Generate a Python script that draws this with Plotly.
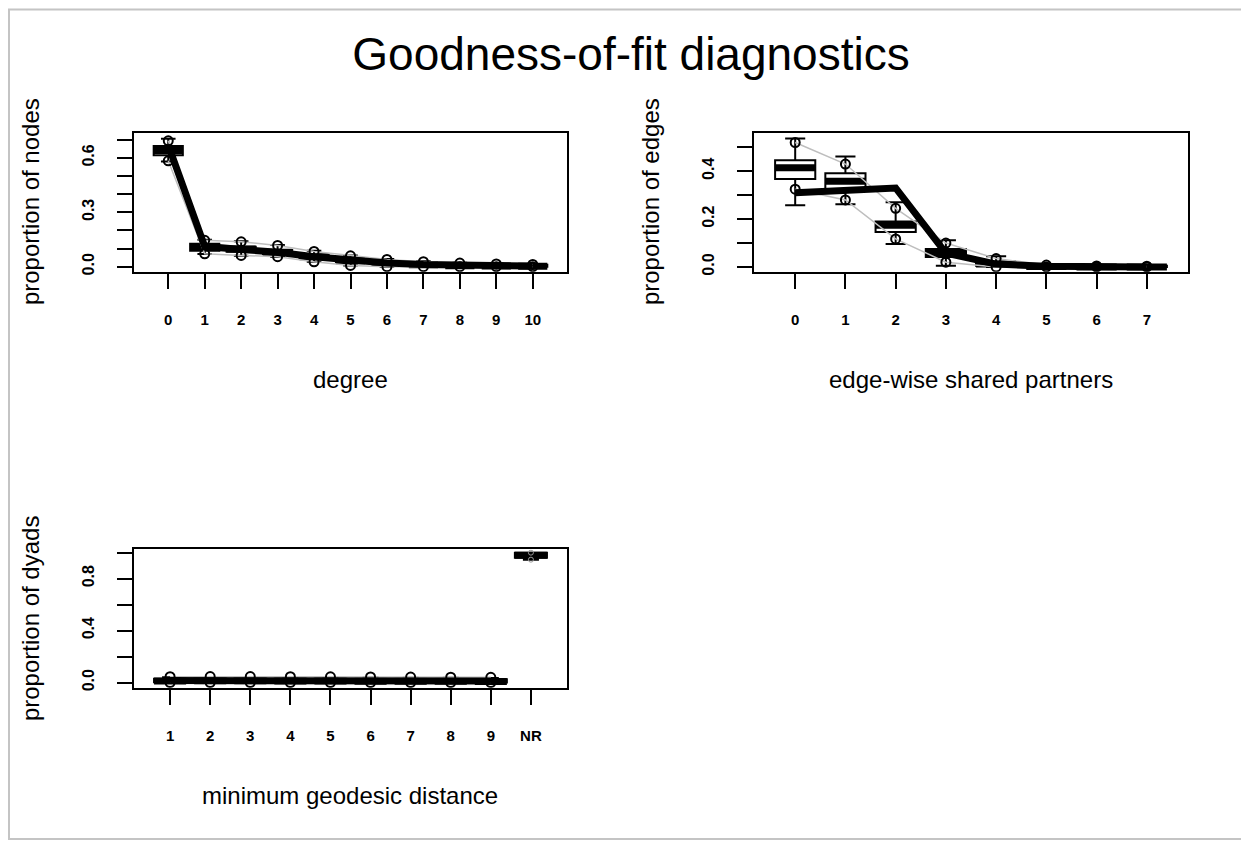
import plotly.graph_objects as go

# ---------------- data ----------------
# Panel 1: degree
deg_labels = ['0', '1', '2', '3', '4', '5', '6', '7', '8', '9', '10']
deg_q1 = [0.615, 0.088, 0.082, 0.068, 0.045, 0.025, 0.010, 0.005, 0.001, 0.000, 0.000]
deg_med = [0.640, 0.105, 0.097, 0.080, 0.055, 0.033, 0.017, 0.010, 0.005, 0.003, 0.002]
deg_q3 = [0.665, 0.126, 0.110, 0.092, 0.066, 0.042, 0.025, 0.018, 0.014, 0.012, 0.010]
deg_lo = [0.580, 0.070, 0.060, 0.053, 0.027, 0.007, 0.000, 0.000, 0.000, 0.000, 0.000]
deg_hi = [0.705, 0.148, 0.140, 0.120, 0.088, 0.062, 0.042, 0.030, 0.022, 0.017, 0.013]
deg_pmin = [0.584, 0.071, 0.062, 0.055, 0.027, 0.007, 0.000, 0.000, 0.000, 0.000, 0.000]
deg_pmax = [0.694, 0.145, 0.137, 0.117, 0.084, 0.060, 0.040, 0.027, 0.020, 0.015, 0.012]
deg_obs = [0.670, 0.112, 0.095, 0.080, 0.055, 0.035, 0.020, 0.012, 0.006, 0.004, 0.003]

# Panel 2: edge-wise shared partners
esp_labels = ['0', '1', '2', '3', '4', '5', '6', '7']
esp_q1 = [0.367, 0.320, 0.146, 0.042, 0.005, 0.000, 0.000, 0.000]
esp_med = [0.415, 0.358, 0.174, 0.058, 0.012, 0.002, 0.000, 0.000]
esp_q3 = [0.446, 0.392, 0.190, 0.075, 0.020, 0.008, 0.006, 0.005]
esp_lo = [0.258, 0.262, 0.096, 0.005, 0.000, 0.000, 0.000, 0.000]
esp_hi = [0.537, 0.462, 0.270, 0.112, 0.045, 0.012, 0.008, 0.007]
esp_pmin = [0.325, 0.280, 0.117, 0.020, 0.000, 0.000, 0.000, 0.000]
esp_pmax = [0.520, 0.430, 0.245, 0.100, 0.035, 0.008, 0.004, 0.003]
esp_obs = [0.310, 0.317, 0.330, 0.058, 0.012, 0.003, 0.001, 0.000]

# Panel 3: minimum geodesic distance
dist_labels = ['1', '2', '3', '4', '5', '6', '7', '8', '9', 'NR']
dist_q1 = [0.002, 0.004, 0.004, 0.003, 0.002, 0.002, 0.001, 0.001, 0.000, 0.960]
dist_med = [0.012, 0.013, 0.014, 0.012, 0.011, 0.010, 0.010, 0.009, 0.008, 0.980]
dist_q3 = [0.030, 0.031, 0.032, 0.030, 0.029, 0.028, 0.027, 0.026, 0.025, 1.000]
dist_lo = [0.000, 0.000, 0.000, 0.000, 0.000, 0.000, 0.000, 0.000, 0.000, 0.946]
dist_hi = [0.040, 0.041, 0.041, 0.040, 0.039, 0.038, 0.037, 0.036, 0.035, 1.000]
dist_pmin = [0.000, 0.000, 0.000, 0.000, 0.000, 0.000, 0.000, 0.000, 0.000, 0.946]
dist_pmax = [0.045, 0.046, 0.046, 0.045, 0.044, 0.043, 0.042, 0.041, 0.040, 1.000]
dist_obs = [0.016, 0.017, 0.018, 0.016, 0.015, 0.014, 0.013, 0.012, 0.011, 0.980]

# ---------------- figure ----------------
# the page body adds an 8px offset; the figure is sized to fill the rest
OX, OY = 8, 8
W, H = 1241, 838
FONT = "Liberation Sans, Arial, Helvetica, sans-serif"

fig = go.Figure()


def add_panel(xa, ya, labels, q1, med, q3, lo, hi, pmin, pmax, obs, skip_last_obs=False):
    pos = list(range(len(labels)))
    fig.add_trace(go.Box(
        x=pos, q1=q1, median=med, q3=q3, lowerfence=lo, upperfence=hi,
        width=0.8, whiskerwidth=0.5, boxpoints=False,
        line=dict(color="black", width=2), fillcolor="white",
        showlegend=False, hoverinfo="skip", xaxis=xa, yaxis=ya))
    # thick median lines
    mx, my = [], []
    for p, m in zip(pos, med):
        mx += [p - 0.4, p + 0.4, None]
        my += [m, m, None]
    fig.add_trace(go.Scatter(x=mx, y=my, mode="lines",
                             line=dict(color="black", width=7),
                             showlegend=False, hoverinfo="skip", xaxis=xa, yaxis=ya))
    n = len(pos) - 1 if skip_last_obs else len(pos)
    for arr in (pmin, pmax):
        fig.add_trace(go.Scatter(
            x=pos[:n], y=arr[:n], mode="lines+markers",
            line=dict(color="#bebebe", width=1.5),
            marker=dict(symbol="circle-open", color="black", size=9, line=dict(width=2)),
            showlegend=False, hoverinfo="skip", xaxis=xa, yaxis=ya))
        if skip_last_obs:
            fig.add_trace(go.Scatter(
                x=pos[n:], y=arr[n:], mode="markers",
                marker=dict(symbol="circle-open", color="#999999", size=5, line=dict(width=1)),
                showlegend=False, hoverinfo="skip", xaxis=xa, yaxis=ya))
    fig.add_trace(go.Scatter(x=pos[:n], y=obs[:n], mode="lines",
                             line=dict(color="black", width=7),
                             showlegend=False, hoverinfo="skip", xaxis=xa, yaxis=ya))


add_panel("x", "y", deg_labels, deg_q1, deg_med, deg_q3, deg_lo, deg_hi, deg_pmin, deg_pmax, deg_obs)
add_panel("x2", "y2", esp_labels, esp_q1, esp_med, esp_q3, esp_lo, esp_hi, esp_pmin, esp_pmax, esp_obs)
add_panel("x3", "y3", dist_labels, dist_q1, dist_med, dist_q3, dist_lo, dist_hi, dist_pmin, dist_pmax,
          dist_obs, skip_last_obs=True)


def fx(a):
    return (a - OX) / W


def fy(y):
    return 1 - (y - OY) / H


axis_common = dict(showline=True, mirror=True, linecolor="black", linewidth=2,
                   ticks="outside", ticklen=15, tickwidth=2, tickcolor="black",
                   showgrid=False, zeroline=False, fixedrange=True,
                   tickfont=dict(family=FONT, size=15, color="black"))


def xaxis(labels, domain, anchor):
    n = len(labels)
    ext = 0.04 * n
    return dict(axis_common, domain=domain, anchor=anchor,
                range=[-0.5 - ext, n - 0.5 + ext],
                tickmode="array", tickvals=list(range(n)),
                ticktext=["<b>%s</b>" % s for s in labels],
                ticklabelstandoff=18)


def yaxis(tickvals, ticktext, rng, domain, anchor):
    return dict(axis_common, domain=domain, anchor=anchor, range=rng,
                tickmode="array", tickvals=tickvals,
                ticktext=["<b>%s</b>" % s if s else "" for s in ticktext],
                tickangle=-90, ticklabelstandoff=17,
                tickfont=dict(family=FONT, size=16, color="black"))


d1x = [fx(134), fx(567)]
d2x = [fx(754), fx(1188)]
dtop = [fy(273), fy(134)]
dbot = [fy(691), fy(552)]

fig.update_layout(
    width=W, height=H, margin=dict(l=0, r=0, t=0, b=0),
    plot_bgcolor="white", paper_bgcolor="white",
    font=dict(family=FONT, color="black"),
    xaxis=xaxis(deg_labels, d1x, "y"),
    yaxis=yaxis([0, 0.1, 0.2, 0.3, 0.4, 0.5, 0.6, 0.7],
                ["0.0", "", "", "0.3", "", "", "0.6", ""], [-0.028, 0.735], dtop, "x"),
    xaxis2=xaxis(esp_labels, d2x, "y2"),
    yaxis2=yaxis([0, 0.1, 0.2, 0.3, 0.4, 0.5],
                 ["0.0", "", "0.2", "", "0.4", ""], [-0.02, 0.558], dtop, "x2"),
    xaxis3=xaxis(dist_labels, d1x, "y3"),
    yaxis3=yaxis([0, 0.2, 0.4, 0.6, 0.8, 1.0],
                 ["0.0", "", "0.4", "", "0.8", ""], [-0.04, 1.025], dbot, "x3"),
    title=dict(text="Goodness-of-fit diagnostics", x=fx(631), xanchor="center",
               y=fy(54), yanchor="middle",
               font=dict(family=FONT, size=46, color="black")),
)


# axis titles
def ann(text, x, y, angle=0):
    fig.add_annotation(text=text, x=fx(x), y=fy(y), xref="paper", yref="paper",
                       showarrow=False, textangle=angle, xanchor="center", yanchor="middle",
                       font=dict(family=FONT, size=24, color="black"))


ann("degree", 350, 381)
ann("edge-wise shared partners", 971, 381)
ann("minimum geodesic distance", 350, 799)
ann("proportion of nodes", 30, 203, -90)
ann("proportion of edges", 650, 203, -90)
ann("proportion of dyads", 30, 622, -90)

# outer frame
fig.add_shape(type="rect", xref="paper", yref="paper",
              x0=fx(9), x1=fx(1245), y0=fy(843), y1=fy(9.5),
              line=dict(color="#c4c4c4", width=2))

fig.write_html("out.html")
